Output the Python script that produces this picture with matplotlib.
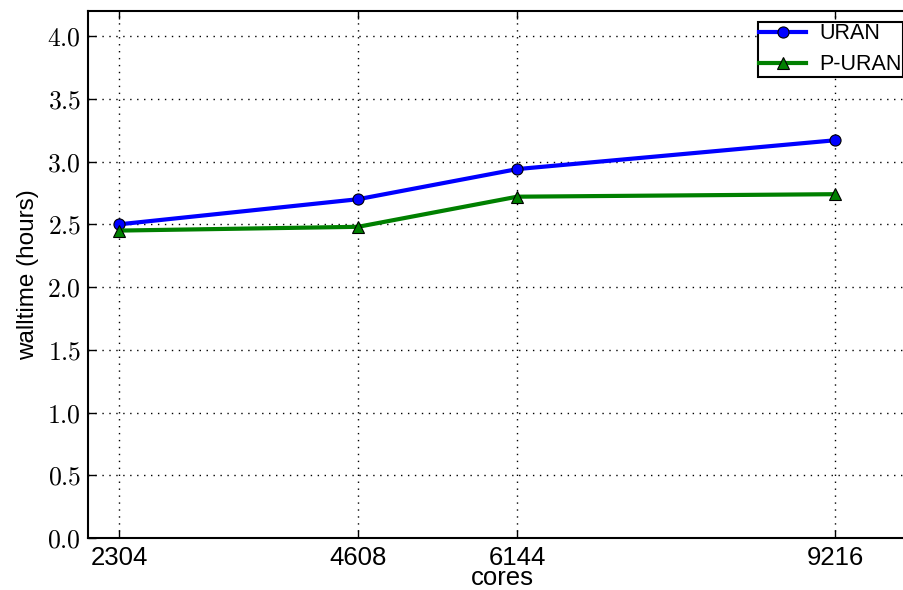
import matplotlib
matplotlib.use("Agg")
import matplotlib.pyplot as plt
from matplotlib.ticker import FuncFormatter

cores = [2304, 4608, 6144, 9216]
uran = [2.50, 2.70, 2.94, 3.17]
p_uran = [2.45, 2.48, 2.72, 2.74]
y_ticks = [0.0, 0.5, 1.0, 1.5, 2.0, 2.5, 3.0, 3.5, 4.0]

plt.rcParams['mathtext.fontset'] = 'cm'
plt.rcParams['font.family'] = ['Liberation Sans', 'DejaVu Sans']

fig = plt.figure(figsize=(9.04, 5.9), dpi=100)
ax = fig.add_axes([0.0973, 0.0881, 1.014 - 0.0973, 0.9814 - 0.0881])

ax.plot(cores, uran, color='blue', lw=3, marker='o', ms=8,
        mec='black', mew=0.8, label='URAN')
ax.plot(cores, p_uran, color='green', lw=3, marker='^', ms=8,
        mec='black', mew=0.8, label='P-URAN')

ax.set_xlim(2000, 10000)
ax.set_ylim(0, 4.2)
ax.set_xticks(cores)
ax.set_xticklabels([str(c) for c in cores])
ax.set_yticks(y_ticks)
ax.yaxis.set_major_formatter(FuncFormatter(lambda v, p: r'$%.1f$' % v))

ax.tick_params(direction='in', top=True, right=True, length=6, width=1,
               labelsize=18.5)
ax.tick_params(axis='x', pad=6)
ax.tick_params(axis='y', pad=5)
ax.grid(True, color='black', linestyle=(0, (1, 4)), linewidth=1)

for s in ax.spines.values():
    s.set_linewidth(1.5)

ax.set_ylabel('walltime (hours)', fontsize=17.5, labelpad=6)
ax.set_xlabel('cores', fontsize=18.5, labelpad=-3)

leg = ax.legend(loc='upper right', bbox_to_anchor=(903 / 904, 1 - 22 / 590),
                bbox_transform=fig.transFigure, fontsize=15.5, fancybox=False,
                framealpha=1, borderaxespad=0, borderpad=0.06,
                labelspacing=0.47, handlelength=2.2, handletextpad=0.6)
leg.get_frame().set_edgecolor('black')
leg.get_frame().set_linewidth(1.5)

fig.savefig('out.png', dpi=100)
